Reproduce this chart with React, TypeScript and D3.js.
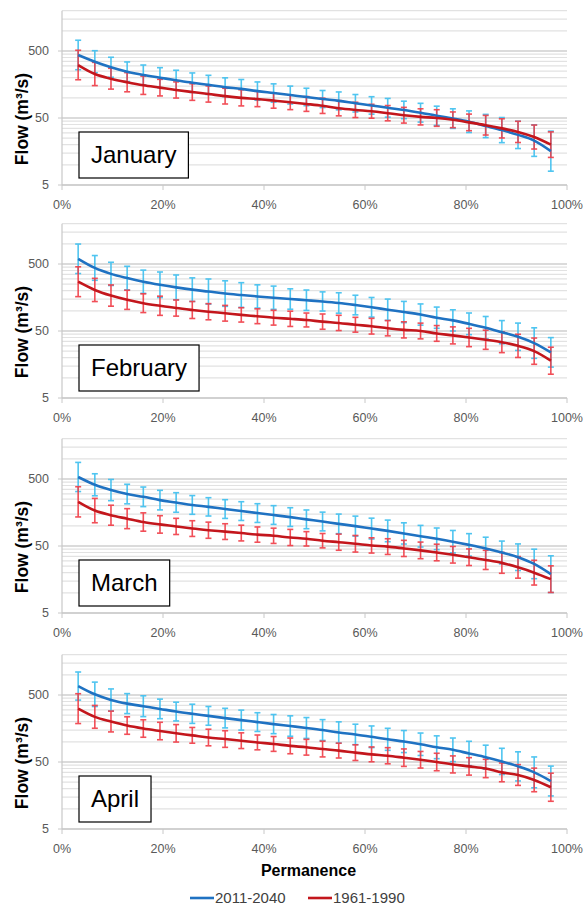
import React, { useEffect, useRef } from "react";
import * as d3 from "d3";

// permanence (% of time flow is exceeded), one value per plotted point
const permanence = [
	3.2, 6.5, 9.7, 12.9, 16.1, 19.4, 22.6, 25.8, 29.0, 32.3, 35.5, 38.7, 41.9,
	45.2, 48.4, 51.6, 54.8, 58.1, 61.3, 64.5, 67.7, 71.0, 74.2, 77.4, 80.6,
	83.9, 87.1, 90.3, 93.5, 96.8,
];

const months = ["January", "February", "March", "April"];
const seriesNames = ["2011-2040", "1961-1990"];
const xTicks = [0, 20, 40, 60, 80, 100];
const yTicks = [5, 50, 500];

// flows (m3/s)
const janFuture = [436, 346, 286, 245, 219, 200, 183, 168, 156, 144, 136, 126, 118, 110, 103, 96, 90, 83, 77, 71, 66, 60, 54, 49, 44, 38, 33, 28, 23, 16];
const janPast = [309, 227, 193, 171, 154, 142, 131, 122, 114, 106, 100, 96, 91, 86, 81, 76, 70, 66, 63, 59, 55, 52, 50, 47, 43, 39, 35, 31, 26, 20];
const febFuture = [598, 437, 356, 308, 272, 245, 224, 207, 194, 181, 172, 164, 157, 150, 144, 138, 131, 122, 113, 104, 96, 88, 79, 72, 64, 56, 48, 41, 33, 24];
const febPast = [272, 205, 169, 146, 130, 119, 110, 103, 97, 92, 87, 83, 79, 76, 73, 69, 66, 62, 59, 55, 52, 50, 46, 43, 40, 37, 34, 30, 25, 18];
const marFuture = [536, 410, 342, 298, 271, 242, 223, 205, 192, 178, 166, 155, 145, 135, 125, 116, 107, 99, 91, 84, 77, 70, 64, 58, 52, 46, 40, 34, 27, 19];
const marPast = [228, 169, 144, 128, 114, 105, 98, 91, 86, 82, 78, 74, 71, 67, 64, 60, 57, 54, 51, 49, 46, 43, 40, 37, 34, 31, 28, 24, 20, 16];
const aprFuture = [680, 512, 422, 372, 340, 310, 283, 262, 244, 226, 211, 197, 184, 172, 161, 150, 138, 129, 119, 109, 101, 92, 83, 76, 67, 59, 51, 43, 35, 26];
const aprPast = [313, 236, 201, 175, 158, 145, 134, 125, 116, 110, 104, 98, 93, 87, 83, 78, 74, 69, 65, 62, 58, 54, 50, 46, 43, 40, 35, 32, 27, 21];

// error bars as multiplicative spread (upper = v*f, lower = v/f)
const janFutureErr = [1.66, 1.46, 1.41, 1.4, 1.41, 1.41, 1.41, 1.4, 1.39, 1.38, 1.38, 1.37, 1.37, 1.36, 1.35, 1.34, 1.36, 1.35, 1.35, 1.38, 1.35, 1.38, 1.39, 1.4, 1.45, 1.49, 1.54, 1.6, 1.72, 1.99];
const janPastErr = [1.66, 1.49, 1.43, 1.39, 1.37, 1.33, 1.32, 1.33, 1.32, 1.31, 1.32, 1.3, 1.3, 1.29, 1.29, 1.3, 1.3, 1.3, 1.27, 1.3, 1.31, 1.32, 1.33, 1.31, 1.33, 1.4, 1.39, 1.44, 1.51, 1.55];
const febFutureErr = [1.66, 1.53, 1.49, 1.5, 1.49, 1.55, 1.53, 1.5, 1.54, 1.55, 1.53, 1.49, 1.49, 1.42, 1.42, 1.39, 1.42, 1.4, 1.4, 1.44, 1.44, 1.44, 1.44, 1.44, 1.45, 1.47, 1.49, 1.6, 1.69, 1.66];
const febPastErr = [1.67, 1.49, 1.44, 1.39, 1.38, 1.39, 1.32, 1.34, 1.32, 1.31, 1.28, 1.29, 1.29, 1.3, 1.27, 1.3, 1.3, 1.29, 1.31, 1.3, 1.32, 1.31, 1.31, 1.34, 1.37, 1.39, 1.43, 1.49, 1.57, 1.59];
const marFutureErr = [1.65, 1.46, 1.44, 1.4, 1.4, 1.4, 1.4, 1.38, 1.37, 1.38, 1.38, 1.38, 1.38, 1.38, 1.38, 1.38, 1.4, 1.41, 1.43, 1.45, 1.44, 1.45, 1.45, 1.47, 1.47, 1.47, 1.48, 1.58, 1.66, 1.88];
const marPastErr = [1.68, 1.52, 1.41, 1.41, 1.37, 1.35, 1.32, 1.31, 1.32, 1.31, 1.31, 1.3, 1.3, 1.32, 1.28, 1.28, 1.32, 1.33, 1.3, 1.31, 1.32, 1.33, 1.33, 1.33, 1.33, 1.39, 1.43, 1.45, 1.53, 1.58];
const aprFutureErr = [1.62, 1.52, 1.46, 1.41, 1.43, 1.4, 1.38, 1.39, 1.38, 1.4, 1.41, 1.38, 1.39, 1.42, 1.43, 1.43, 1.44, 1.42, 1.45, 1.46, 1.46, 1.47, 1.48, 1.5, 1.52, 1.51, 1.57, 1.65, 1.7, 1.67];
const aprPastErr = [1.67, 1.48, 1.43, 1.35, 1.35, 1.35, 1.35, 1.31, 1.33, 1.33, 1.31, 1.29, 1.29, 1.31, 1.31, 1.31, 1.29, 1.31, 1.29, 1.32, 1.35, 1.33, 1.35, 1.34, 1.35, 1.37, 1.38, 1.43, 1.5, 1.62];

const panelData = [
	{ future: janFuture, past: janPast, futureErr: janFutureErr, pastErr: janPastErr },
	{ future: febFuture, past: febPast, futureErr: febFutureErr, pastErr: febPastErr },
	{ future: marFuture, past: marPast, futureErr: marFutureErr, pastErr: marPastErr },
	{ future: aprFuture, past: aprPast, futureErr: aprFutureErr, pastErr: aprPastErr },
];

const W = 588;
const H = 906;
const plotLeft = 62;
const plotRight = 567;
const panelBottoms = [185, 398, 613, 829];
const yMax = 2000;
const decadePx = 67;

const font = "'Liberation Sans', Arial, sans-serif";
const lineColors = ["#1f72c2", "#c3161c"];
const errColors = ["#3dbfef", "#f03c46"];

function App() {
	const ref = useRef(null);

	useEffect(() => {
		const svg = d3.select(ref.current);
		svg.selectAll("*").remove();

		const x = d3.scaleLinear().domain([0, 100]).range([plotLeft, plotRight]);

		// minor gridlines at 2..9 times each major value
		const gridValues = [];
		yTicks.forEach((m) => {
			for (let k = 1; k <= 9; k++) {
				if (m * k <= yMax) gridValues.push(m * k);
			}
		});

		months.forEach((month, pi) => {
			const bottom = panelBottoms[pi];
			const top = bottom - decadePx * Math.log10(yMax / 5);
			const y = d3.scaleLog().domain([5, yMax]).range([bottom, top]);
			const g = svg.append("g");
			const d = panelData[pi];

			// gridlines
			g.selectAll(".grid")
				.data(gridValues)
				.enter()
				.append("line")
				.attr("x1", plotLeft)
				.attr("x2", plotRight)
				.attr("y1", (v) => y(v))
				.attr("y2", (v) => y(v))
				.attr("stroke", (v) => (yTicks.includes(v) ? "#cfcfcf" : "#e2e2e2"))
				.attr("stroke-width", (v) => (yTicks.includes(v) ? 1.6 : 1.2));

			// axes
			g.append("line")
				.attr("x1", plotLeft)
				.attr("x2", plotLeft)
				.attr("y1", top)
				.attr("y2", bottom)
				.attr("stroke", "#c8c8c8")
				.attr("stroke-width", 1.2);
			g.append("line")
				.attr("x1", plotLeft)
				.attr("x2", plotRight)
				.attr("y1", bottom)
				.attr("y2", bottom)
				.attr("stroke", "#c8c8c8")
				.attr("stroke-width", 1.2);
			g.selectAll(".ytick")
				.data(yTicks)
				.enter()
				.append("line")
				.attr("x1", plotLeft - 4)
				.attr("x2", plotLeft)
				.attr("y1", (v) => y(v))
				.attr("y2", (v) => y(v))
				.attr("stroke", "#c8c8c8");
			g.selectAll(".xtick")
				.data(xTicks)
				.enter()
				.append("line")
				.attr("x1", (v) => x(v))
				.attr("x2", (v) => x(v))
				.attr("y1", bottom)
				.attr("y2", bottom + 5)
				.attr("stroke", "#c8c8c8");

			g.selectAll(".ylab")
				.data(yTicks)
				.enter()
				.append("text")
				.text((v) => v)
				.attr("x", plotLeft - 13)
				.attr("y", (v) => y(v))
				.attr("dy", "0.35em")
				.attr("text-anchor", "end")
				.attr("font-family", font)
				.attr("font-size", 12.5)
				.attr("fill", "#595959");
			g.selectAll(".xlab")
				.data(xTicks)
				.enter()
				.append("text")
				.text((v) => `${v}%`)
				.attr("x", (v) => x(v))
				.attr("y", bottom + 24)
				.attr("text-anchor", "middle")
				.attr("font-family", font)
				.attr("font-size", 12.5)
				.attr("fill", "#595959");

			g.append("text")
				.text("Flow (m³/s)")
				.attr("transform", `translate(28,${bottom - 66}) rotate(-90)`)
				.attr("text-anchor", "middle")
				.attr("font-family", font)
				.attr("font-size", 17.5)
				.attr("font-weight", "bold")
				.attr("fill", "#000");

			const series = [
				{ values: d.future, err: d.futureErr },
				{ values: d.past, err: d.pastErr },
			];

			// error bars
			series.forEach((s, si) => {
				const pts = s.values.map((v, i) => ({
					p: permanence[i],
					hi: v * s.err[i],
					lo: v / s.err[i],
				}));
				const eb = g.append("g")
					.attr("stroke", errColors[si])
					.attr("stroke-width", 1.6)
					.attr("opacity", 0.9);
				pts.forEach((pt) => {
					const cx = x(pt.p);
					eb.append("line")
						.attr("x1", cx).attr("x2", cx)
						.attr("y1", y(pt.hi)).attr("y2", y(pt.lo));
					[pt.hi, pt.lo].forEach((v) => {
						eb.append("line")
							.attr("x1", cx - 3).attr("x2", cx + 3)
							.attr("y1", y(v)).attr("y2", y(v));
					});
				});
			});

			// lines
			const line = d3
				.line()
				.x((p) => x(p.p))
				.y((p) => y(p.v))
				.curve(d3.curveMonotoneX);
			series.forEach((s, si) => {
				g.append("path")
					.datum(s.values.map((v, i) => ({ p: permanence[i], v })))
					.attr("d", line)
					.attr("fill", "none")
					.attr("stroke", lineColors[si])
					.attr("stroke-width", 2.6);
			});

			// month box
			const boxBottom = bottom - 7;
			const label = g.append("text")
				.text(month)
				.attr("x", plotLeft + 29)
				.attr("y", boxBottom - 15)
				.attr("font-family", font)
				.attr("font-size", 24)
				.attr("fill", "#000");
			const tw = label.node().getComputedTextLength();
			g.insert("rect", "text:last-child")
				.attr("x", plotLeft + 17)
				.attr("y", boxBottom - 46)
				.attr("width", tw + 24)
				.attr("height", 46)
				.attr("fill", "#fff")
				.attr("stroke", "#000")
				.attr("stroke-width", 1.2);
		});

		// x axis title
		svg.append("text")
			.text("Permanence")
			.attr("x", (plotLeft + plotRight) / 2 - 6)
			.attr("y", 876)
			.attr("text-anchor", "middle")
			.attr("font-family", font)
			.attr("font-size", 16)
			.attr("font-weight", "bold")
			.attr("fill", "#000");

		// legend
		const legendX = [190, 308];
		seriesNames.forEach((name, i) => {
			svg.append("line")
				.attr("x1", legendX[i])
				.attr("x2", legendX[i] + 24)
				.attr("y1", 898)
				.attr("y2", 898)
				.attr("stroke", lineColors[i])
				.attr("stroke-width", 2.6);
			svg.append("text")
				.text(name)
				.attr("x", legendX[i] + 25)
				.attr("y", 898)
				.attr("dy", "0.35em")
				.attr("font-family", font)
				.attr("font-size", 15)
				.attr("fill", "#404040");
		});
	}, []);

	return (
		<svg
			ref={ref}
			width={W}
			height={H}
			style={{ position: "absolute", left: 0, top: 0, background: "#fff" }}
		/>
	);
}

export default App;
